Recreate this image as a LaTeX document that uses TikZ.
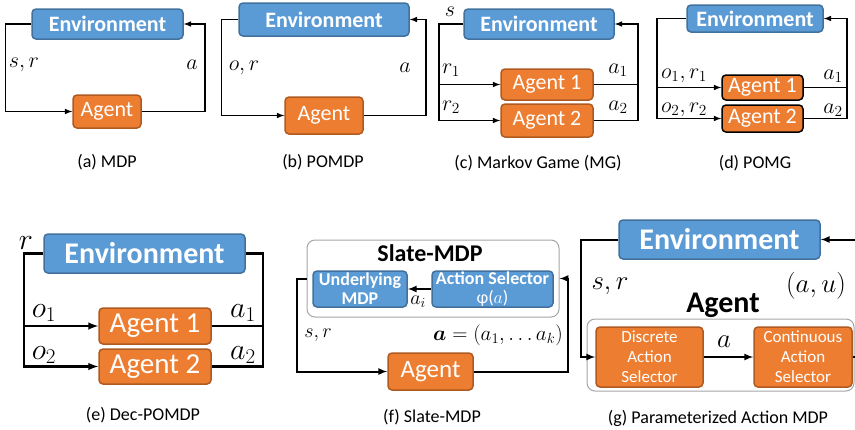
\documentclass[tikz,border=0pt]{standalone}
\usepackage{fix-cm}
\usepackage{amsmath}
\usepackage{fontspec}
\setmainfont{Carlito}
\definecolor{envfill}{HTML}{5B9BD5}
\definecolor{envline}{HTML}{41719C}
\definecolor{agfill}{HTML}{ED7D31}
\definecolor{agline}{HTML}{AE5A21}
\definecolor{grpline}{HTML}{A6A6A6}
\newcommand{\fsz}[2]{\fontsize{#1}{#2}\selectfont}
\begin{document}
\begin{tikzpicture}[x=1pt,y=-1pt,line width=1.5pt,
env/.style={%
draw=envline, fill=envfill, rounded corners=4pt,
text=white, font=\bfseries\fsz{22}{22}, inner sep=0pt
},
agent/.style={%
draw=agline, fill=agfill, rounded corners=4pt,
text=white, font=\fsz{22}{22}, inner sep=0pt
},
grp/.style={draw=grpline, line width=1pt, fill=white, rounded corners=8pt, inner sep=0pt},
wh/.style 2 args={minimum width=#1pt, minimum height=#2pt},
lbl/.style={font=\fsz{22}{22}, inner sep=0pt},
capt/.style={font=\fsz{18}{18}}
]
\useasboundingbox(0,0)rectangle(855,429);
%% (a) MDP
\node[env,wh={151}{30}]at(107.5,24)(envA){Environment};
\node[agent,wh={68}{33}]at(107,111.5)(agA){Agent};
\draw[-{latex}](envA.west)--++(-26,0)|-(agA.west);
\draw[-{latex}](agA.east)--++(63,0)|-(envA.east);
\node[lbl]at(24,65){$s,r$};
\node[lbl]at(192,65){$a$};
\node[capt]at(107,162){(a) MDP};
%% (b) POMDP
\node[env,wh={170}{33}]at(324,19.5)(envB){Environment};
\node[agent,wh={78}{37}]at(324,115.5)(agB){Agent};
\draw[-{latex}](envB.west)--++(-17,0)|-(agB.west);
\draw[-{latex}](agB.east)--++(62,0)|-(envB.east);
\node[lbl]at(244,68){$o,r$};
\node[lbl]at(405,68){$a$};
\node[capt]at(323,162){(b) POMDP};
%% (c) Markov game
\node[env,wh={150}{30}]at(539,24)(envC){Environment};
\node[agent,wh={92}{31}]at(547,84.5)(agC1){Agent 1};
\node[agent,wh={92}{33}]at(547,120.5)(agC2){Agent 2};
\coordinate(cL)at(439,24);
\coordinate(cR)at(638,24);
\draw[-{latex}](envC.west)--(cL)|-(agC2.west);
\draw[-{latex}](cL|-agC1.west)--(agC1.west);
\draw[-{latex}](agC2.east)-|(cR)--(envC.east);
\draw(agC1.east)--(agC1.east-|cR);
\node[lbl]at(450,12){$s$};
\node[lbl]at(451,70){$r_1$};
\node[lbl]at(451,107){$r_2$};
\node[lbl]at(618,70){$a_1$};
\node[lbl]at(618,107){$a_2$};
\node[capt]at(538,163){(c) Markov Game (MG)};
%% (d) POMG
\node[env,wh={136}{27}]at(755,18.5)(envD){Environment};
\node[agent,draw=black,wh={81}{25}]at(762.5,87.5)(agD1){Agent 1};
\node[agent,draw=black,wh={81}{27}]at(762.5,118.5)(agD2){Agent 2};
\coordinate(dL)at(657,18.5);
\coordinate(dR)at(847,18.5);
\draw[-{latex}](envD.west)--(dL)|-(agD2.west);
\draw[-{latex}](dL|-agD1.west)--(agD1.west);
\draw[-{latex}](agD2.east)-|(dR)--(envD.east);
\draw(agD1.east)--(agD1.east-|dR);
\node[lbl]at(684,76){$o_1,r_1$};
\node[lbl]at(684,110){$o_2,r_2$};
\node[lbl]at(833,76){$a_1$};
\node[lbl]at(833,110){$a_2$};
\node[capt]at(755,163){(d) POMG};
%% (e) Dec-POMDP
\node[env,wh={201}{39},font=\bfseries\fsz{30}{30}]at(144.5,253.5)(envE){Environment};
\node[agent,wh={112}{36},font=\fsz{29}{29}]at(155,326)(agE1){Agent 1};
\node[agent,wh={112}{35},font=\fsz{29}{29}]at(155,366.5)(agE2){Agent 2};
\coordinate(eL)at(24,253.5);
\coordinate(eR)at(263,253.5);
\draw[line width=2.4pt,-{latex}](envE.west)--(eL)|-(agE2.west);
\draw[line width=2.4pt,-{latex}](eL|-agE1.west)--(agE1.west);
\draw[line width=2.4pt](agE2.east)-|(eR)--(envE.east);
\draw[line width=2.4pt](agE1.east)--(agE1.east-|eR);
\node[lbl,font=\fsz{30}{30}]at(26,243){$r$};
\node[lbl,font=\fsz{30}{30}]at(44,313){$o_1$};
\node[lbl,font=\fsz{30}{30}]at(44,355){$o_2$};
\node[lbl,font=\fsz{30}{30}]at(243,313){$a_1$};
\node[lbl,font=\fsz{30}{30}]at(243,355){$a_2$};
\node[capt]at(143,415){(e) Dec-POMDP};
%% (f) Slate-MDP
\node[grp,wh={252}{77}]at(433,278.5)(slate){};
\node[font=\bfseries\fsz{24}{24},inner sep=0pt]at(430,253)(slt){Slate-MDP};
\node[env,wh={94}{36},font=\bfseries\fsz{18}{19},align=center]at(360,289)(umdp){Underlying\\MDP};
\node[env,wh={121}{36},font=\fsz{18}{19},align=center]at(492.5,289)(asel){\textbf{Action Selector}\\φ($a$)};
\draw[line width=2pt,-{latex}](asel)--(umdp);
\node[lbl,font=\fsz{20}{20}]at(418,302){$a_i$};
\node[agent,wh={85}{37},font=\fsz{25}{25}]at(430.5,371.5)(agF){Agent};
\draw[line width=2pt,-{latex}](slate.west)--++(-10,0)|-(agF.west);
\draw[line width=2pt,-{latex}](agF.east)--++(94,0)|-(slate.east);
\node[lbl,font=\fsz{20}{20}]at(318,335){$s,r$};
\node[lbl,font=\fsz{21}{21}]at(498,335){$\boldsymbol{a}=(a_1,\ldots a_k)$};
\node[capt]at(432,417){(f) Slate-MDP};
%% (g) Parameterized action MDP
\node[env,wh={201}{39},font=\bfseries\fsz{30}{30}]at(719.5,239.5)(envG){Environment};
\node[grp,wh={267}{72}]at(720.5,355)(agG){};
\node[font=\bfseries\fsz{30}{30},inner sep=0pt]at(723,305)(agt){Agent};
\node[agent,wh={107}{60},font=\fsz{17}{20},align=center]at(649.5,357)(disc){Discrete\\Action\\Selector};
\node[agent,wh={98}{60},font=\fsz{17}{20},align=center]at(803,357)(cont){Continuous\\Action\\Selector};
\draw[line width=2pt,-{latex}](envG.west)--++(-37,0)|-(disc.west);
\draw[line width=2pt,-{latex}](disc)--(cont);
\draw[line width=2pt,-{latex}](cont.east)--++(10,0)|-(envG.east);
\node[lbl,font=\fsz{27}{27}]at(610,286){$s,r$};
\node[lbl,font=\fsz{27}{27}]at(816,286){$(a,u)$};
\node[lbl,font=\fsz{27}{27}]at(724,342){$a$};
\node[capt]at(718,418){(g) Parameterized Action MDP};
\end{tikzpicture}
\end{document}
